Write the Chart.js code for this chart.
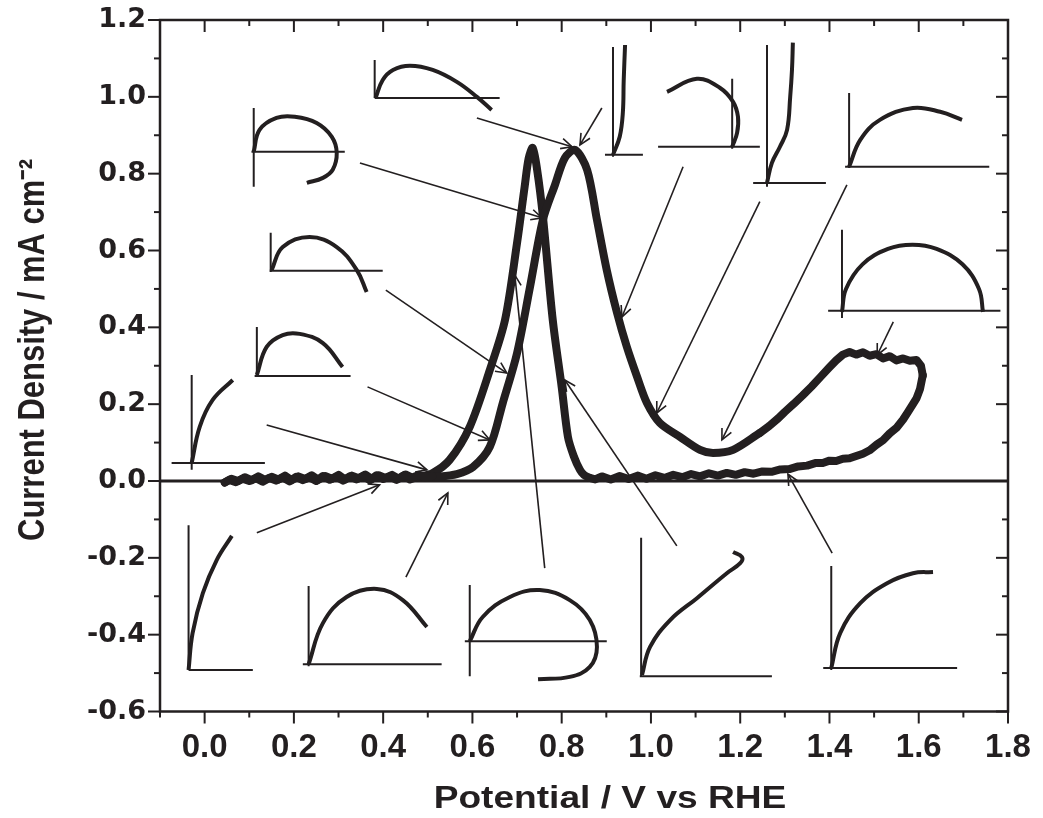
<!DOCTYPE html>
<html>
<head>
<meta charset="utf-8">
<script src="https://cdn.jsdelivr.net/npm/chart.js@4.4.1/dist/chart.umd.min.js"></script>
<style>
  html, body { margin: 0; padding: 0; background: #ffffff; }
  #wrap { width: 1043px; height: 818px; position: relative; }
</style>
</head>
<body>
<div id="wrap"><canvas id="c" width="1043" height="818"></canvas></div>
<script>
// ---------- axis text and tick positions ----------
const xAxisTitle = 'Potential / V vs RHE';
const yAxisTitle = 'Current Density / mA cm\u207B\u00B2';
const xMajorTicks = [0.0, 0.2, 0.4, 0.6, 0.8, 1.0, 1.2, 1.4, 1.6, 1.8];
const xMinorTicks = [-0.1, 0.1, 0.3, 0.5, 0.7, 0.9, 1.1, 1.3, 1.5, 1.7];
const yMajorTicks = [-0.6, -0.4, -0.2, 0.0, 0.2, 0.4, 0.6, 0.8, 1.0, 1.2];
const yMinorTicks = [-0.5, -0.3, -0.1, 0.1, 0.3, 0.5, 0.7, 0.9, 1.1];

// ---------- cyclic voltammogram [potential V, current density mA cm-2] ----------
const cvForwardLow = [
  [0.045,-0.004],[0.06,0.006],[0.075,0.000],[0.09,0.010],[0.105,0.002],[0.12,0.012],[0.135,0.003],
  [0.15,0.011],[0.165,0.004],[0.18,0.014],[0.195,0.002],[0.21,0.012],[0.225,0.005],[0.24,0.015],
  [0.255,0.003],[0.27,0.013],[0.285,0.006],[0.30,0.016],[0.315,0.004],[0.33,0.014],[0.345,0.007],
  [0.36,0.017],[0.375,0.005],[0.39,0.015],[0.405,0.008],[0.42,0.016],[0.435,0.006],[0.45,0.017],
  [0.465,0.009],[0.48,0.016],[0.495,0.010],[0.51,0.013]
];
const cvForwardPeak = [
  [0.51,0.013],[0.527,0.012],[0.565,0.018],[0.601,0.036],[0.639,0.089],[0.668,0.203],[0.700,0.333],
  [0.729,0.505],[0.758,0.680],[0.785,0.771],[0.807,0.841],[0.830,0.862],[0.857,0.810],[0.879,0.680],
  [0.901,0.549],[0.924,0.438],[0.946,0.349],[0.969,0.271],[0.991,0.203],[1.020,0.151],[1.065,0.115],
  [1.110,0.081],[1.139,0.073],[1.184,0.081],[1.244,0.125]
];
const cvForwardHigh = [
  [1.244,0.125],[1.265,0.143],[1.285,0.163],[1.30,0.180],[1.32,0.201],[1.34,0.223],[1.36,0.246],
  [1.38,0.271],[1.40,0.296],[1.415,0.314],[1.43,0.329],[1.445,0.336],[1.46,0.329],[1.475,0.335],
  [1.49,0.326],[1.505,0.330],[1.52,0.319],[1.535,0.325],[1.55,0.314],[1.565,0.319],[1.58,0.313],
  [1.595,0.315],[1.605,0.300],[1.609,0.275]
];
const cvReverseHigh = [
  [1.609,0.275],[1.603,0.240],[1.595,0.215],[1.587,0.200],[1.575,0.178],[1.565,0.160],[1.55,0.138],
  [1.535,0.124],[1.52,0.106],[1.505,0.094],[1.49,0.080],[1.475,0.071],[1.46,0.065],[1.445,0.059],
  [1.43,0.058],[1.415,0.052],[1.40,0.053],[1.385,0.047],[1.37,0.047],[1.35,0.040],[1.33,0.038],
  [1.31,0.031],[1.29,0.030],[1.27,0.024],[1.25,0.025],[1.23,0.019],[1.21,0.023],[1.19,0.016],
  [1.17,0.021],[1.15,0.014],[1.13,0.020],[1.11,0.012],[1.09,0.018],[1.07,0.010],[1.05,0.016],
  [1.03,0.008],[1.01,0.015],[0.99,0.006],[0.97,0.014],[0.95,0.005],[0.93,0.013],[0.91,0.004],
  [0.89,0.012],[0.875,0.004],[0.863,0.008]
];
const cvReversePeak = [
  [0.863,0.008],[0.850,0.016],[0.841,0.029],[0.827,0.065],[0.814,0.115],[0.800,0.245],[0.780,0.419],
  [0.758,0.688],[0.745,0.810],[0.735,0.867],[0.726,0.840],[0.717,0.766],[0.700,0.620],[0.673,0.419],
  [0.639,0.289],[0.594,0.141],[0.549,0.055],[0.511,0.021],[0.475,0.010]
];
const cvReverseLow = [
  [0.475,0.010],[0.46,0.004],[0.445,0.014],[0.43,0.003],[0.415,0.012],[0.40,0.005],[0.385,0.015],
  [0.37,0.002],[0.355,0.013],[0.34,0.004],[0.325,0.012],[0.31,0.001],[0.295,0.011],[0.28,0.003],
  [0.265,0.013],[0.25,0.000],[0.235,0.010],[0.22,0.002],[0.205,0.011],[0.19,-0.001],[0.175,0.009],
  [0.16,0.001],[0.145,0.008],[0.13,-0.002],[0.115,0.007],[0.10,0.000],[0.085,0.006],[0.07,-0.003],
  [0.055,0.003],[0.045,-0.004]
];
const zeroLine = [[-0.1, 0.0], [1.8, 0.0]];

// ---------- inset sketches (in the chart's own V / mA cm-2 units) ----------
const insetAxisSegments = [
  [0.381,1.096,0.381,0.997],[0.381,0.997,0.661,0.997],
  [0.110,0.971,0.110,0.766],[0.105,0.857,0.314,0.857],
  [0.915,1.130,0.915,0.844],[0.897,0.849,0.982,0.849],
  [1.182,1.047,1.182,0.865],[1.016,0.870,1.244,0.870],
  [1.260,1.135,1.260,0.766],[1.229,0.776,1.392,0.776],
  [1.444,1.010,1.444,0.815],[1.435,0.818,1.758,0.818],
  [1.428,0.654,1.428,0.424],[1.397,0.443,1.783,0.443],
  [0.148,0.646,0.148,0.544],[0.146,0.547,0.399,0.547],
  [0.117,0.401,0.117,0.271],[0.112,0.273,0.327,0.273],
  [-0.029,0.276,-0.029,0.029],[-0.074,0.047,0.135,0.047],
  [-0.036,-0.115,-0.036,-0.492],[-0.036,-0.492,0.108,-0.492],
  [0.233,-0.273,0.233,-0.482],[0.220,-0.477,0.531,-0.477],
  [0.594,-0.271,0.594,-0.508],[0.583,-0.417,0.901,-0.417],
  [0.978,-0.148,0.978,-0.510],[0.975,-0.508,1.271,-0.508],
  [1.404,-0.221,1.404,-0.492],[1.386,-0.487,1.686,-0.487]
];
const insetACurve = [[0.383,0.997],[0.399,1.044],[0.422,1.070],[0.460,1.081],[0.511,1.070],[0.565,1.039],[0.610,1.000],[0.643,0.966]];
const insetBCurve = [[0.110,0.857],[0.123,0.914],[0.161,0.945],[0.202,0.948],[0.251,0.932],[0.285,0.896],[0.296,0.854],[0.287,0.810],[0.265,0.789],[0.229,0.776]];
const insetCCurve = [[0.915,0.849],[0.930,0.896],[0.937,0.958],[0.939,1.044],[0.942,1.135]];
const insetDCurve = [[1.036,1.013],[1.103,1.047],[1.155,1.023],[1.184,0.987],[1.195,0.948],[1.193,0.906],[1.182,0.870]];
const insetECurve = [[1.260,0.776],[1.271,0.828],[1.289,0.870],[1.305,0.914],[1.312,1.000],[1.316,1.070],[1.318,1.141]];
const insetFCurve = [[1.444,0.818],[1.469,0.888],[1.513,0.940],[1.587,0.971],[1.648,0.961],[1.697,0.940]];
const insetGCurve = [[1.428,0.440],[1.437,0.500],[1.474,0.564],[1.531,0.604],[1.586,0.615],[1.640,0.604],[1.698,0.564],[1.735,0.500],[1.744,0.440]];
const insetHCurve = [[0.150,0.549],[0.175,0.609],[0.235,0.635],[0.296,0.609],[0.341,0.549],[0.363,0.492]];
const insetICurve = [[0.117,0.276],[0.139,0.349],[0.175,0.380],[0.213,0.383],[0.265,0.359],[0.309,0.297]];
const insetJCurve = [[-0.029,0.047],[-0.011,0.141],[0.018,0.211],[0.063,0.263]];
const insetKCurve = [[-0.036,-0.492],[-0.027,-0.396],[-0.004,-0.292],[0.027,-0.206],[0.061,-0.143]];
const insetLCurve = [[0.233,-0.477],[0.265,-0.370],[0.318,-0.302],[0.386,-0.281],[0.444,-0.310],[0.498,-0.380]];
const insetMCurve = [[0.594,-0.417],[0.623,-0.354],[0.684,-0.302],[0.751,-0.284],[0.818,-0.310],[0.863,-0.362],[0.879,-0.432],[0.863,-0.484],[0.818,-0.510],[0.747,-0.516]];
const insetNCurve = [[0.980,-0.505],[0.998,-0.432],[1.043,-0.362],[1.103,-0.305],[1.170,-0.240],[1.200,-0.214],[1.204,-0.198],[1.184,-0.185]];
const insetOCurve = [[1.404,-0.487],[1.424,-0.396],[1.469,-0.318],[1.529,-0.266],[1.587,-0.240],[1.632,-0.237]];

// arrows [fromX, fromY, toX, toY]
const arrowLines = [
  [0.610,0.945,0.823,0.870],[0.348,0.828,0.756,0.685],[0.890,0.971,0.841,0.875],
  [1.072,0.818,0.935,0.427],[1.244,0.727,1.013,0.177],[1.439,0.771,1.159,0.107],
  [1.543,0.414,1.507,0.328],[0.406,0.497,0.677,0.281],[0.365,0.245,0.639,0.107],
  [0.139,0.146,0.498,0.029],[0.117,-0.135,0.392,-0.010],[0.451,-0.250,0.545,-0.031],
  [0.762,-0.227,0.695,0.536],[1.058,-0.169,0.807,0.263],[1.406,-0.188,1.307,0.018]
];

// ---------- build ----------
const INK = '#231f20';
const pts = arr => arr.map(p => ({x: p[0], y: p[1]}));
const datasets = [];
const cvStyle = { borderColor: INK, borderWidth: 8, showLine: true, pointRadius: 0,
  borderJoinStyle: 'round', borderCapStyle: 'round', order: 0 };
[cvForwardLow, cvForwardHigh, cvReverseHigh, cvReverseLow].forEach(s =>
  datasets.push(Object.assign({ data: pts(s), tension: 0 }, cvStyle)));
[cvForwardPeak, cvReversePeak].forEach(s =>
  datasets.push(Object.assign({ data: pts(s), tension: 0.3 }, cvStyle)));
datasets.push({ data: pts(zeroLine), borderColor: INK, borderWidth: 3, showLine: true, pointRadius: 0, order: 1 });
insetAxisSegments.forEach(s => datasets.push({
  data: [{x: s[0], y: s[1]}, {x: s[2], y: s[3]}], borderColor: INK, borderWidth: 2,
  showLine: true, pointRadius: 0, order: 2 }));
[insetACurve, insetBCurve, insetCCurve, insetDCurve, insetECurve, insetFCurve, insetGCurve, insetHCurve,
 insetICurve, insetJCurve, insetKCurve, insetLCurve, insetMCurve, insetNCurve, insetOCurve].forEach(c =>
  datasets.push({ data: pts(c), borderColor: INK, borderWidth: 4, tension: 0.4, showLine: true,
    pointRadius: 0, order: 2 }));

const decorPlugin = {
  id: 'decor',
  afterDatasetsDraw(chart) {
    const {ctx, chartArea: a, scales: {x, y}} = chart;
    ctx.save();
    ctx.strokeStyle = INK;
    ctx.fillStyle = INK;
    ctx.lineCap = 'butt';
    const seg = (x1, y1, x2, y2) => { ctx.beginPath(); ctx.moveTo(x1, y1); ctx.lineTo(x2, y2); ctx.stroke(); };
    // arrows
    ctx.lineWidth = 1.6;
    arrowLines.forEach(r => {
      const x1 = x.getPixelForValue(r[0]), y1 = y.getPixelForValue(r[1]);
      const x2 = x.getPixelForValue(r[2]), y2 = y.getPixelForValue(r[3]);
      seg(x1, y1, x2, y2);
      const ang = Math.atan2(y2 - y1, x2 - x1), L = 12, h = 0.45;
      ctx.beginPath();
      ctx.moveTo(x2 - L * Math.cos(ang - h), y2 - L * Math.sin(ang - h));
      ctx.lineTo(x2, y2);
      ctx.lineTo(x2 - L * Math.cos(ang + h), y2 - L * Math.sin(ang + h));
      ctx.stroke();
    });
    // frame with mirrored ticks
    ctx.lineWidth = 2.5;
    ctx.strokeRect(a.left, a.top, a.right - a.left, a.bottom - a.top);
    ctx.lineWidth = 2;
    xMajorTicks.forEach(v => { const p = x.getPixelForValue(v); seg(p, a.bottom, p, a.bottom + 12); seg(p, a.top, p, a.top + 12); });
    xMinorTicks.forEach(v => { const p = x.getPixelForValue(v); seg(p, a.bottom, p, a.bottom + 6); seg(p, a.top, p, a.top + 6); });
    yMajorTicks.forEach(v => { const p = y.getPixelForValue(v); seg(a.left - 12, p, a.left, p); seg(a.right, p, a.right - 12, p); });
    yMinorTicks.forEach(v => { const p = y.getPixelForValue(v); seg(a.left - 6, p, a.left, p); seg(a.right, p, a.right - 6, p); });
    // axis titles
    ctx.textAlign = 'center';
    ctx.textBaseline = 'middle';
    ctx.save();
    ctx.translate(610, 799);
    ctx.scale(1.16, 1);
    ctx.font = 'bold 32px "Liberation Sans", Arial, sans-serif';
    ctx.fillText(xAxisTitle, 0, 0);
    ctx.restore();
    ctx.save();
    ctx.translate(34, 350);
    ctx.rotate(-Math.PI / 2);
    ctx.scale(0.86, 1);
    ctx.font = 'bold 36px "Liberation Sans", Arial, sans-serif';
    ctx.fillText(yAxisTitle, 0, 0);
    ctx.restore();
    ctx.restore();
  }
};

new Chart(document.getElementById('c'), {
  type: 'scatter',
  data: { datasets },
  plugins: [decorPlugin],
  options: {
    responsive: false,
    animation: false,
    events: [],
    layout: { padding: { left: 0, right: 35, top: 20, bottom: 0 } },
    plugins: { legend: { display: false }, tooltip: { enabled: false } },
    scales: {
      x: {
        type: 'linear', min: -0.1, max: 1.8,
        afterBuildTicks: s => { s.ticks = xMajorTicks.map(v => ({value: v})); },
        afterFit: s => { s.height = 106.5; s.paddingLeft = 0; s.paddingRight = 0; },
        grid: { display: false, drawTicks: false },
        border: { display: false },
        ticks: { color: INK, padding: 20, maxRotation: 0, autoSkip: false,
          font: { family: '"Liberation Sans", Arial, sans-serif', weight: 'bold', size: 33, lineHeight: 1.0 },
          callback: v => Number(v).toFixed(1) },
        title: { display: false }
      },
      y: {
        type: 'linear', min: -0.6, max: 1.2,
        afterBuildTicks: s => { s.ticks = yMajorTicks.map(v => ({value: v})); },
        afterFit: s => { s.width = 160; s.paddingTop = 0; s.paddingBottom = 0; },
        grid: { display: false, drawTicks: false },
        border: { display: false },
        ticks: { color: INK, padding: 14, autoSkip: false,
          font: { family: '"DejaVu Sans", sans-serif', weight: 'bold', size: 27, lineHeight: 1.0 },
          callback: v => Number(v).toFixed(1) },
        title: { display: false }
      }
    }
  }
});
</script>
</body>
</html>
